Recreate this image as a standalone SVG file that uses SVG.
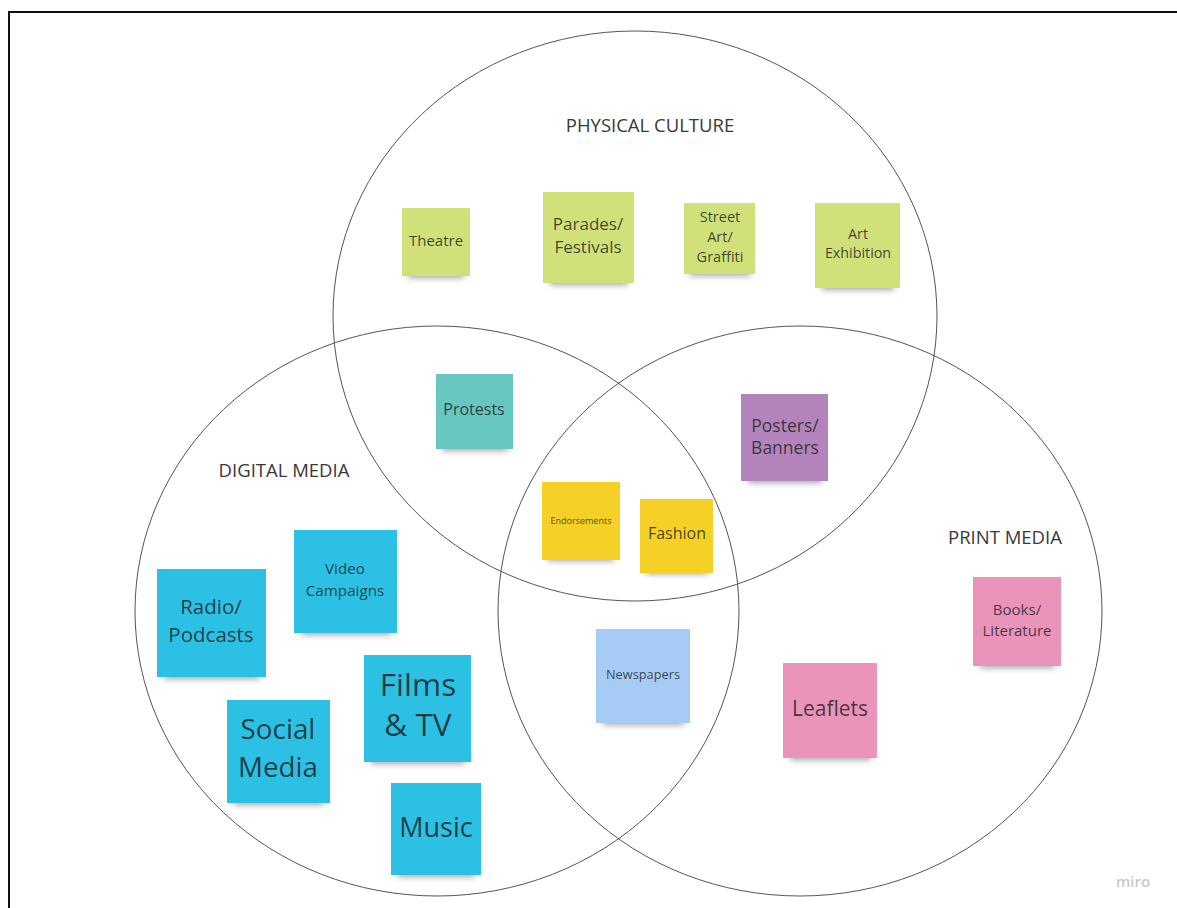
<svg xmlns="http://www.w3.org/2000/svg" width="1177" height="908" viewBox="0 0 1177 908">
  <defs>
    <filter id="soft" x="-30%" y="-100%" width="160%" height="300%">
      <feGaussianBlur stdDeviation="3"/>
    </filter>
    <style>
      .set { fill: none; stroke: #555; stroke-width: 1; }
      .setlabel { font-family: "Open Sans", "Liberation Sans", sans-serif; font-size: 18.5px; fill: #383838; text-anchor: middle; }
      .shadow { fill: #000; opacity: 0.35; filter: url(#soft); }
      .note text { font-family: "Open Sans", "Liberation Sans", sans-serif; fill: #1f1f1f; fill-opacity: 0.82; text-anchor: middle; dominant-baseline: central; }
      .green { fill: #d0e17a; }
      .teal { fill: #67c6c0; }
      .purple { fill: #b384bb; }
      .yellow { fill: #f5d128; }
      .cyan { fill: #2bc0e4; }
      .lblue { fill: #a6ccf5; }
      .pink { fill: #ea94bb; }
    </style>
  </defs>

  <rect width="1177" height="908" fill="#fff"/>
  <!-- frame -->
  <rect x="9" y="12" width="1180" height="910" fill="none" stroke="#111" stroke-width="2"/>

  <!-- the three sets -->
  <g id="set-physical">
    <ellipse class="set" cx="635" cy="316" rx="302" ry="285"/>
    <text class="setlabel" x="650" y="132">PHYSICAL CULTURE</text>
  </g>
  <g id="set-digital">
    <ellipse class="set" cx="437" cy="611" rx="302" ry="285"/>
    <text class="setlabel" x="284" y="477">DIGITAL MEDIA</text>
  </g>
  <g id="set-print">
    <ellipse class="set" cx="800" cy="611" rx="302" ry="285"/>
    <text class="setlabel" x="1005" y="544">PRINT MEDIA</text>
  </g>

  <!-- sticky notes -->
  <g id="note-theatre" class="note">
    <rect class="shadow" x="408" y="268" width="56" height="10"/>
    <rect class="green" x="402" y="208" width="68" height="68"/>
    <text x="436" y="240" font-size="15">Theatre</text>
  </g>
  <g id="note-parades" class="note">
    <rect class="shadow" x="550" y="274" width="78" height="11"/>
    <rect class="green" x="543" y="192" width="91" height="91"/>
    <text x="588" y="223" font-size="17">Parades/</text>
    <text x="588" y="246" font-size="17">Festivals</text>
  </g>
  <g id="note-streetart" class="note">
    <rect class="shadow" x="690" y="266" width="60" height="10"/>
    <rect class="green" x="684" y="203" width="71" height="71"/>
    <text x="720" y="216" font-size="14.5">Street</text>
    <text x="720" y="236" font-size="14.5">Art/</text>
    <text x="720" y="256" font-size="14.5">Graffiti</text>
  </g>
  <g id="note-artexhibition" class="note">
    <rect class="shadow" x="822" y="279" width="72" height="11"/>
    <rect class="green" x="815" y="203" width="85" height="85"/>
    <text x="858" y="233" font-size="14.3">Art</text>
    <text x="858" y="252" font-size="14.3">Exhibition</text>
  </g>
  <g id="note-protests" class="note">
    <rect class="shadow" x="442" y="441" width="66" height="10"/>
    <rect class="teal" x="436" y="374" width="77" height="75"/>
    <text x="474" y="409" font-size="16">Protests</text>
  </g>
  <g id="note-posters" class="note">
    <rect class="shadow" x="748" y="472" width="74" height="11"/>
    <rect class="purple" x="741" y="394" width="87" height="87"/>
    <text x="785" y="425" font-size="17.5">Posters/</text>
    <text x="785" y="447" font-size="17.5">Banners</text>
  </g>
  <g id="note-endorsements" class="note">
    <rect class="shadow" x="548" y="551" width="66" height="10"/>
    <rect class="yellow" x="542" y="482" width="78" height="78"/>
    <text x="581" y="520" font-size="9">Endorsements</text>
  </g>
  <g id="note-fashion" class="note">
    <rect class="shadow" x="646" y="564" width="62" height="10"/>
    <rect class="yellow" x="640" y="499" width="73" height="74"/>
    <text x="677" y="533" font-size="16">Fashion</text>
  </g>
  <g id="note-radio" class="note">
    <rect class="shadow" x="164" y="668" width="96" height="11"/>
    <rect class="cyan" x="157" y="569" width="109" height="108"/>
    <text x="211" y="606" font-size="20.5">Radio/</text>
    <text x="211" y="634" font-size="20.5">Podcasts</text>
  </g>
  <g id="note-video" class="note">
    <rect class="shadow" x="301" y="624" width="90" height="11"/>
    <rect class="cyan" x="294" y="530" width="103" height="103"/>
    <text x="345" y="568" font-size="15.2">Video</text>
    <text x="345" y="590" font-size="15.2">Campaigns</text>
  </g>
  <g id="note-films" class="note">
    <rect class="shadow" x="371" y="753" width="94" height="11"/>
    <rect class="cyan" x="364" y="655" width="107" height="107"/>
    <text x="418" y="683" font-size="31.5">Films</text>
    <text x="418" y="723" font-size="31.5">&amp; TV</text>
  </g>
  <g id="note-social" class="note">
    <rect class="shadow" x="234" y="794" width="90" height="11"/>
    <rect class="cyan" x="227" y="700" width="103" height="103"/>
    <text x="278" y="728" font-size="27.8">Social</text>
    <text x="278" y="766" font-size="27.8">Media</text>
  </g>
  <g id="note-music" class="note">
    <rect class="shadow" x="398" y="866" width="77" height="11"/>
    <rect class="cyan" x="391" y="783" width="90" height="92"/>
    <text x="436" y="826" font-size="27">Music</text>
  </g>
  <g id="note-newspapers" class="note">
    <rect class="shadow" x="603" y="714" width="81" height="11"/>
    <rect class="lblue" x="596" y="629" width="94" height="94"/>
    <text x="643" y="674" font-size="12.8">Newspapers</text>
  </g>
  <g id="note-leaflets" class="note">
    <rect class="shadow" x="790" y="749" width="81" height="11"/>
    <rect class="pink" x="783" y="663" width="94" height="95"/>
    <text x="830" y="708" font-size="21">Leaflets</text>
  </g>
  <g id="note-books" class="note">
    <rect class="shadow" x="980" y="657" width="75" height="11"/>
    <rect class="pink" x="973" y="577" width="88" height="89"/>
    <text x="1017" y="609" font-size="15">Books/</text>
    <text x="1017" y="630" font-size="15">Literature</text>
  </g>

  <!-- board watermark -->
  <text x="1133" y="887" font-family="Open Sans, Liberation Sans, sans-serif" font-size="15" font-weight="600" fill="#c9c9c9" text-anchor="middle">miro</text>
</svg>
